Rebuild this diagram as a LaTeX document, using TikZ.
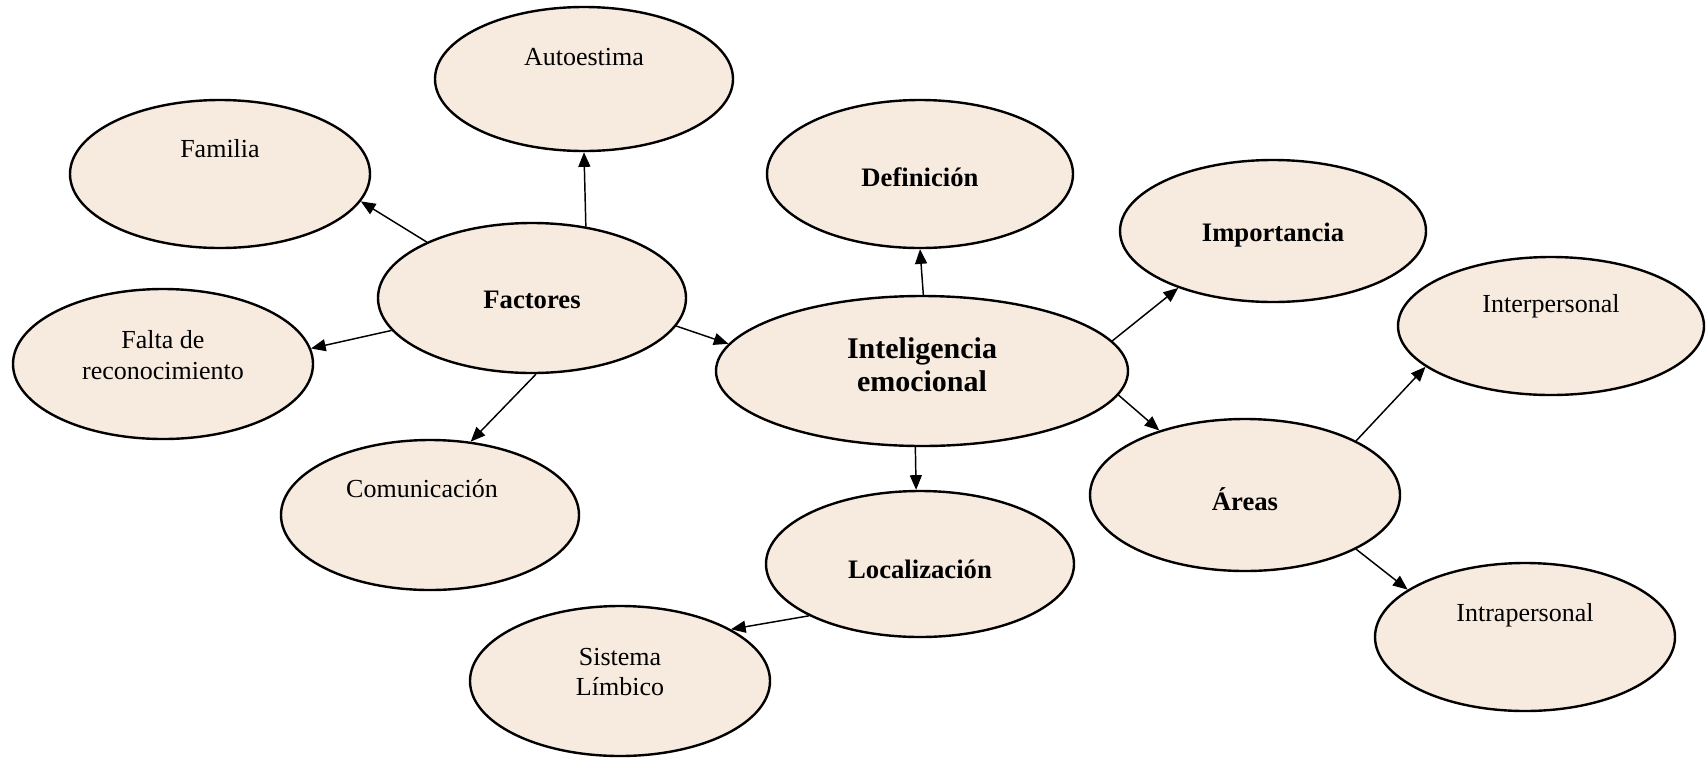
\documentclass[tikz,border=0pt]{standalone}
\usepackage{fontspec}
\setmainfont{Liberation Serif}
\usetikzlibrary{shapes.geometric,arrows.meta}
\definecolor{eggc}{HTML}{F7EADF}
\definecolor{eggm}{HTML}{EEDACA}
\definecolor{eggr}{HTML}{9A8573}
\pgfdeclareradialshading{eggshade}{\pgfpoint{0bp}{0bp}}{color(0bp)=(eggc); color(41bp)=(eggc); color(46.5bp)=(eggm); color(49.5bp)=(eggr); color(50bp)=(eggr)}
\begin{document}
\begin{tikzpicture}[x=0.75pt,y=-0.75pt,
  ell/.style 2 args={ellipse, draw=black, line width=1.8pt, shading=eggshade,
    minimum width=#1*1.5pt, minimum height=#2*1.5pt, inner sep=0pt},
  reg/.style={font=\fontsize{19.5}{23}\selectfont, align=center, inner sep=0pt},
  bld/.style={font=\fontsize{20}{23}\selectfont\bfseries, align=center, inner sep=0pt},
  big/.style={font=\fontsize{22.5}{25}\selectfont\bfseries, align=center, inner sep=0pt},
  arr/.style={line width=1.1pt, -{Triangle[length=11pt,width=9pt]}}]
\useasboundingbox (0,0) rectangle (1706,758);
% ellipses
\node[ell={149}{72}] (aut) at (584,79) {};
\node[ell={150}{74}] (fam) at (220,174) {};
\node[ell={153}{74}] (def) at (920,174) {};
\node[ell={153}{71}] (imp) at (1273,231) {};
\node[ell={154}{75}] (fac) at (532,298) {};
\node[ell={150}{75}] (fal) at (163,364) {};
\node[ell={206}{75}] (ie) at (922,371) {};
\node[ell={153}{69}] (int) at (1551,326) {};
\node[ell={149}{75}] (com) at (430,515) {};
\node[ell={155}{76}] (are) at (1245,495) {};
\node[ell={154}{73}] (loc) at (920,564) {};
\node[ell={150}{75}] (sis) at (620,681) {};
\node[ell={150}{74}] (itr) at (1525,637) {};
% texts
\node[reg] (autt) at (584,57) {Autoestima};
\node[reg] (famt) at (220,149) {Familia};
\node[bld] (deft) at (920,177) {Definición};
\node[bld] (impt) at (1273,235) {Importancia};
\node[bld] (fact) at (532,300) {Factores};
\node[reg] (falt) at (163,355) {Falta de\\reconocimiento};
\node[big] (iet) at (922,365) {Inteligencia\\emocional};
\node[reg] (intt) at (1551,306) {Interpersonal};
\node[reg] (comt) at (422,489) {Comunicación};
\node[bld] (aret) at (1245,499) {Áreas};
\node[bld] (loct) at (920,569) {Localización};
\node[reg] (sist) at (620,672) {Sistema\\Límbico};
\node[reg] (itrt) at (1525,615) {Intrapersonal};
% connectors
\draw[arr] (fac.152.6) -- (fam.-11.8);
\draw[arr] (fac.53.5) -- (aut.south);
\draw[arr] (fac.-167.3) -- (fal.6.4);
\draw[arr] (fac.-87) -- (com.61.6);
\draw[arr] (fac.-11.7) -- (ie.172.4);
\draw[arr] (ie.89) -- (def.south);
\draw[arr] (ie.9.9) -- (imp.-149.7);
\draw[arr] (ie.-7.4) -- (are.143.5);
\draw[arr] (ie.-95.5) -- (loc.93.9);
\draw[arr] (loc.-155.7) -- (sis.25.7);
\draw[arr] (are.26.4) -- (int.-162.1);
\draw[arr] (are.-26.3) -- (itr.158);
\end{tikzpicture}
\end{document}
